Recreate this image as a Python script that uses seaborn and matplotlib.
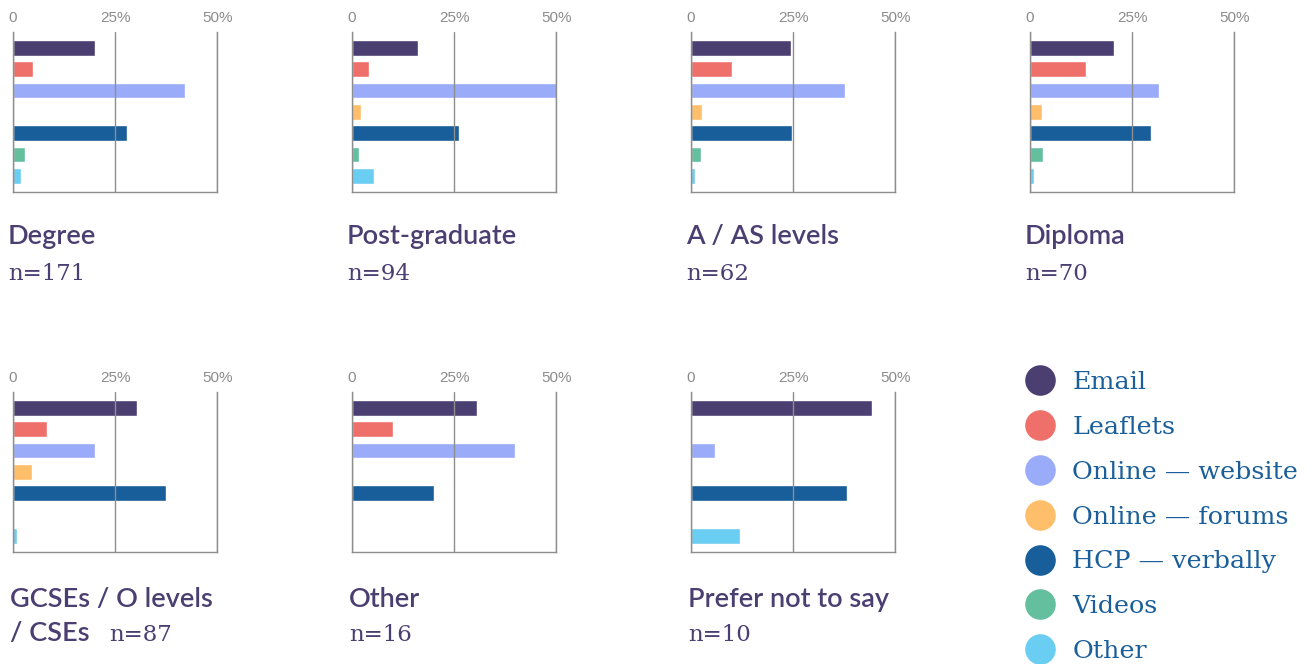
import matplotlib
matplotlib.use("Agg")
import matplotlib.pyplot as plt
import seaborn as sns
import pandas as pd
from matplotlib.lines import Line2D
from matplotlib.font_manager import FontProperties

# Information channels (bar order, top to bottom) and their colours
channels = ["Email", "Leaflets", "Online — website", "Online — forums",
            "HCP — verbally", "Videos", "Other"]
colors = ["#4b3f72", "#ef706a", "#9aabfa", "#ffbe6a", "#175e9a", "#63bf9e", "#6acdf2"]

# Share of respondents (%) per channel, by highest education level
degree = [20.1, 4.9, 42.1, 0.0, 27.9, 2.9, 2.0]
postgrad = [16.1, 4.1, 50.8, 2.1, 26.3, 1.6, 5.3]
a_levels = [24.4, 10.0, 37.6, 2.6, 24.6, 2.4, 1.1]
diploma = [20.5, 13.6, 31.5, 2.9, 29.5, 3.1, 1.1]
gcses = [30.3, 8.3, 20.1, 4.6, 37.4, 0.3, 1.0]
other_edu = [30.5, 10.0, 40.0, 0.0, 20.0, 0.0, 0.0]
prefer_not = [44.2, 0.0, 5.8, 0.0, 38.1, 0.0, 11.9]

group_titles = ["Degree", "Post-graduate", "A / AS levels", "Diploma",
                "GCSEs / O levels", "Other", "Prefer not to say"]
sample_sizes = [171, 94, 62, 70, 87, 16, 10]
tick_values = [0, 25, 50]
tick_labels = ["0", "25%", "50%"]

series = [degree, postgrad, a_levels, diploma, gcses, other_edu, prefer_not]

sns.set_theme(style="white")
plt.rcParams["font.family"] = ["Lato", "DejaVu Sans"]

W, H = 1312, 664
fig = plt.figure(figsize=(W / 100, H / 100), dpi=100)

col_x = [13, 352, 691, 1030]
row_top = [32, 392]
ax_w, ax_h = 204.3, 160
grid_col = "#8e8e8e"
title_col = "#4b3f72"
sans_title = FontProperties(family="Lato", size=19.5, weight="semibold")
serif_n = FontProperties(family="DejaVu Serif", size=16.5)

for i, (vals, title, n) in enumerate(zip(series, group_titles, sample_sizes)):
    r, c = divmod(i, 4)
    ax = fig.add_axes([col_x[c] / W, 1 - (row_top[r] + ax_h) / H, ax_w / W, ax_h / H])
    df = pd.DataFrame({"channel": channels, "share": vals})
    sns.barplot(data=df, x="share", y="channel", hue="channel", order=channels,
                hue_order=channels, palette=colors, saturation=1, width=0.74,
                orient="h", legend=False, ax=ax)
    ax.set_xlim(0, 50)
    ax.set_ylim(6.76, -0.74)
    ax.set_xlabel("")
    ax.set_ylabel("")
    ax.set_yticks([])
    ax.set_xticks(tick_values)
    ax.set_xticklabels(tick_labels, fontfamily="Liberation Sans")
    ax.xaxis.tick_top()
    ax.tick_params(axis="x", length=0, pad=5, labelsize=11, labelcolor="#8c8c8c")
    ax.set_axisbelow(False)
    ax.xaxis.grid(True, color=grid_col, lw=1.0)
    ax.spines["top"].set_visible(False)
    for side in ["left", "bottom", "right"]:
        ax.spines[side].set_color(grid_col)
        ax.spines[side].set_linewidth(1.0)

    tx = col_x[c] - 5 + (2 if r == 1 else 0)
    base1 = 244 if r == 0 else 607
    base2 = 280 if r == 0 else 641
    fig.text(tx / W, 1 - base1 / H, title, fontproperties=sans_title,
             color=title_col, va="baseline", ha="left")
    if title.startswith("GCSEs"):
        fig.text(tx / W, 1 - base2 / H, "/ CSEs", fontproperties=sans_title,
                 color=title_col, va="baseline", ha="left")
        fig.text(109 / W, 1 - base2 / H, f"n={n}", fontproperties=serif_n,
                 color=title_col, va="baseline", ha="left")
    else:
        fig.text(tx / W, 1 - base2 / H, f"n={n}", fontproperties=serif_n,
                 color=title_col, va="baseline", ha="left")

handles = [Line2D([], [], marker="o", linestyle="", markersize=21,
                  markerfacecolor=col, markeredgecolor=col) for col in colors]
fig.legend(handles, channels, loc="upper left",
           bbox_to_anchor=(1026 / W, 1 - 371 / H), frameon=False,
           prop=FontProperties(family="DejaVu Serif", size=18.3),
           labelcolor="#1a5e9a", handlelength=1.1, handletextpad=0.72,
           labelspacing=0.86, borderpad=0, borderaxespad=0)

fig.savefig("out.png", dpi=100, facecolor="white")
